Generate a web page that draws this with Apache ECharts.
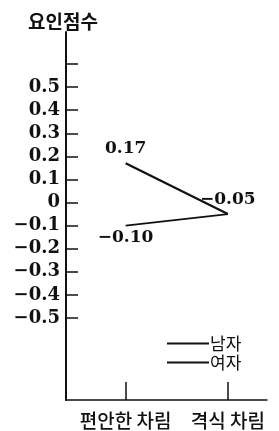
<!DOCTYPE html>
<html lang="ko">
<head>
<meta charset="UTF-8">
<title>요인점수</title>
<script src="https://cdn.jsdelivr.net/npm/echarts@6/dist/echarts.min.js"></script>
<style>
  html, body { margin: 0; padding: 0; background: #fff; }
  #chart { width: 279px; height: 431px; }
</style>
</head>
<body>
<div id="chart"></div>
<script>
  var categories = ['편안한 차림', '격식 차림'];
  var seriesNames = ['남자', '여자'];
  var maleScores = [0.17, -0.05];
  var femaleScores = [-0.10, -0.05];
  var yMin = -0.5, yMax = 0.6, yStep = 0.1;

  var serifFont = '"DejaVu Serif", "Liberation Serif", serif';
  var koFont = '"Noto Sans CJK KR", sans-serif';

  function fmtTick(v) {
    if (Math.abs(v) < 1e-9) return '0';
    if (v > 0.55) return '';
    return (v < 0 ? '\u2212' : '') + Math.abs(v).toFixed(1);
  }
  function fmtVal(v) {
    return (v < 0 ? '\u2212' : '') + Math.abs(v).toFixed(2);
  }

  // male: label on both points; female: only first point (end point shared)
  var maleData = maleScores.map(function (v) {
    return { value: v, label: { show: true, position: 'top', distance: 6 } };
  });
  var femaleData = femaleScores.map(function (v, i) {
    return { value: v, label: { show: i === 0, position: 'bottom', distance: 3 } };
  });

  var chart = echarts.init(document.getElementById('chart'), null, { renderer: 'canvas' });
  var option = {
    backgroundColor: '#fff',
    animation: false,
    title: {
      text: '요인점수',
      left: 23, top: 7,
      textStyle: { fontFamily: koFont, fontSize: 19, fontWeight: 'bold', color: '#111' }
    },
    legend: {
      data: seriesNames,
      orient: 'vertical',
      left: 162, top: 330,
      itemWidth: 42, itemHeight: 2, itemGap: 2,
      icon: 'rect',
      textStyle: { fontFamily: koFont, fontSize: 17, color: '#111', padding: [0, 0, 0, -4] }
    },
    grid: [
      // data grid
      { left: 74.5, width: 210, top: 64, bottom: 113 },
      // frame grid (axis lines)
      { left: 66, right: 12, top: 32, bottom: 31 }
    ],
    xAxis: [
      {
        gridIndex: 0, type: 'category', data: categories,
        boundaryGap: true, position: 'bottom', offset: 82,
        axisLine: { show: false, onZero: false },
        axisTick: { show: true, inside: true, length: 18, alignWithLabel: true,
                    lineStyle: { color: '#111', width: 1.5 } },
        axisLabel: { interval: 0, margin: 11, fontFamily: koFont, fontSize: 19,
                     fontWeight: 500, color: '#111' },
        splitLine: { show: false }
      },
      {
        gridIndex: 1, type: 'value', min: 0, max: 1,
        axisLine: { show: true, onZero: false, lineStyle: { color: '#111', width: 1.5 } },
        axisTick: { show: false }, axisLabel: { show: false }, splitLine: { show: false }
      }
    ],
    yAxis: [
      {
        gridIndex: 0, type: 'value', min: yMin, max: yMax, interval: yStep,
        offset: 8.5,
        axisLine: { show: false, onZero: false },
        axisTick: { show: true, inside: true, length: 12, lineStyle: { color: '#111', width: 1.5 } },
        axisLabel: { margin: 6, formatter: fmtTick, fontFamily: serifFont, fontWeight: 'bold',
                     fontSize: 18, color: '#111' },
        splitLine: { show: false }
      },
      {
        gridIndex: 1, type: 'value', min: 0, max: 1,
        axisLine: { show: true, onZero: false, lineStyle: { color: '#111', width: 2 } },
        axisTick: { show: false }, axisLabel: { show: false }, splitLine: { show: false }
      }
    ],
    series: [
      {
        name: seriesNames[0], type: 'line', xAxisIndex: 0, yAxisIndex: 0,
        data: maleData,
        symbol: 'circle', symbolSize: 0, showSymbol: true,
        lineStyle: { color: '#111', width: 2.2 },
        itemStyle: { color: '#111' },
        label: { formatter: function (p) { return fmtVal(p.value); },
                 fontFamily: serifFont, fontWeight: 'bold', fontSize: 17, color: '#111' },
        emphasis: { disabled: true }
      },
      {
        name: seriesNames[1], type: 'line', xAxisIndex: 0, yAxisIndex: 0,
        data: femaleData,
        symbol: 'circle', symbolSize: 0, showSymbol: true,
        lineStyle: { color: '#111', width: 1.6 },
        itemStyle: { color: '#111' },
        label: { formatter: function (p) { return fmtVal(p.value); },
                 fontFamily: serifFont, fontWeight: 'bold', fontSize: 17, color: '#111' },
        emphasis: { disabled: true }
      }
    ]
  };
  chart.setOption(option);
</script>
</body>
</html>
